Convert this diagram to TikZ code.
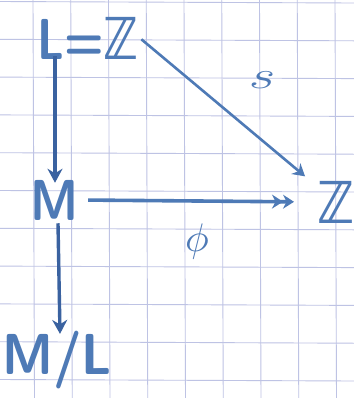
\documentclass[tikz,border=0pt]{standalone}
\usepackage{amssymb}
\usepackage{fontspec}
\usepackage{graphicx}
\usetikzlibrary{arrows.meta}
\newfontfamily\dejavu{DejaVu Sans}
\definecolor{ink}{RGB}{78,122,182}
\definecolor{inkdark}{RGB}{58,98,160}
\definecolor{gridc}{RGB}{190,195,228}
\tikzset{
  obj/.style={text=ink, inner sep=1bp, font=\sffamily\bfseries\fontsize{58}{58}\selectfont},
  lbl/.style={text=ink, inner sep=0pt},
  arr/.style={draw=inkdark, line width=3.4bp, -{Stealth[length=14bp,width=15bp]}},
  thinarr/.style={draw=ink, line width=2.6bp, -{Stealth[length=12bp,width=14bp]}},
  surj/.style={draw=ink, line width=3.6bp, -{Stealth[length=11bp,width=14bp]Stealth[length=11bp,width=14bp]}},
  gridline/.style={draw=gridc, line width=0.9bp}
}
\begin{document}
\begin{tikzpicture}[x=1bp,y=-1bp]
\useasboundingbox (0,0) rectangle (354,398);
\fill[white] (0,0) rectangle (354,398);
% grid paper
\foreach \i in {0,...,8} {
  \draw[gridline] ({33+37.75*\i},0) -- ({33+37.75*\i+1.5},398);
}
\foreach \j in {0,...,10} {
  \draw[gridline] (0,{1.5+37.8*\j}) -- (354,{1.5+37.8*\j+1.5});
}
% objects
\node[obj] (L) at (88,38) {\scalebox{0.8}[1]{L={\dejavu\bfseries ℤ}}};
\node[obj] (M) at (55,200) {\scalebox{0.85}[1]{M}};
\node[obj, anchor=west] (Zr) at (316,202) {\scalebox{0.85}[1]{\dejavu ℤ}};
\node[obj] (ML) at (57,360) {\scalebox{0.9}[1]{M/L}};
% arrows
\draw[arr] ([yshift=4bp]L.south -| M) -- ([yshift=-4bp]M.north);
\draw[thinarr, shorten >=40bp, shorten <=2bp] (L.east) -- (Zr.center);
\node[lbl] (s) at (260,80) {\scalebox{2.4}[1.5]{\fontsize{26}{26}\selectfont\itshape s}};
\draw[surj, shorten <=8bp, shorten >=22bp] (M.east) -- (Zr.west);
\node[lbl] (phi) at (197,242) {\scalebox{4}{$\phi$}};
\draw[arr] ([xshift=3bp,yshift=-2bp]M.south) -- ([xshift=3bp,yshift=-4bp]ML.north);
\end{tikzpicture}
\end{document}
